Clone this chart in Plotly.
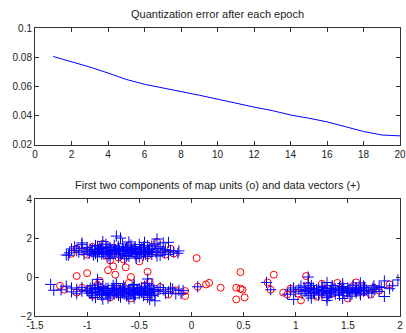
import plotly.graph_objects as go
from plotly.subplots import make_subplots

# ---- top panel data ----
epochs = list(range(1, 21))
qerr = [0.0805, 0.0770, 0.0733, 0.0692, 0.0648, 0.0615, 0.0592, 0.0565, 0.0540, 0.0512,
        0.0482, 0.0459, 0.0435, 0.0405, 0.0383, 0.0358, 0.0325, 0.0292, 0.0268, 0.0262]

# ---- bottom panel: data vectors (+) ----
dataA_x = [-1.05, -0.92, -0.82, -0.74, -0.66, -0.58, -0.50, -0.42, -0.35,
           -1.12, -1.00, -0.90, -0.80, -0.70, -0.62, -0.54, -0.46, -0.38, -0.30,
           -1.15, -1.05, -0.95, -0.87, -0.78, -0.70, -0.63, -0.55, -0.48, -0.40, -0.32, -0.25,
           -1.10, -1.00, -0.93, -0.85, -0.77, -0.69, -0.61, -0.53, -0.45, -0.37, -0.28, -0.20, -0.12,
           -1.17, -1.08, -0.98, -0.90, -0.82, -0.74, -0.66, -0.58, -0.50, -0.42, -0.34, -0.26, -0.17,
           -1.20, -1.03, -0.94, -0.86, -0.78, -0.70, -0.62, -0.54, -0.46, -0.38, -0.30, -0.22,
           -0.90, -0.80, -0.70, -0.60, -0.50, -0.42, -0.33,
           -0.78, -0.64, -0.53,
           -0.72, -0.68, -0.33, -0.22, -0.27, -1.05, -0.85, -0.60, -0.45, -0.13, -1.18,
           -0.96, -0.88, -0.80, -0.72, -0.64, -0.56, -0.48, -0.40,
           -0.97, -0.89, -0.81, -0.73, -0.65, -0.57, -0.49, -0.41,
           -0.92, -0.84, -0.76, -0.68, -0.60, -0.52, -0.44,
           -0.86, -0.78, -0.70, -0.62, -0.54, -0.46]
dataA_y = [1.66, 1.62, 1.68, 1.63, 1.70, 1.64, 1.67, 1.61, 1.69,
           1.55, 1.52, 1.58, 1.54, 1.57, 1.51, 1.56, 1.53, 1.59, 1.55,
           1.44, 1.47, 1.42, 1.46, 1.43, 1.48, 1.41, 1.45, 1.49, 1.44, 1.47, 1.42,
           1.35, 1.33, 1.38, 1.32, 1.36, 1.34, 1.37, 1.31, 1.35, 1.39, 1.33, 1.36, 1.34,
           1.24, 1.27, 1.22, 1.26, 1.23, 1.28, 1.21, 1.25, 1.27, 1.22, 1.26, 1.24, 1.28,
           1.13, 1.16, 1.12, 1.17, 1.14, 1.18, 1.11, 1.15, 1.13, 1.16, 1.12, 1.15,
           1.04, 1.07, 1.02, 1.06, 1.03, 1.05, 1.08,
           0.96, 0.94, 0.97,
           2.10, 2.00, 1.95, 1.78, 1.75, 1.75, 1.82, 1.80, 1.78, 1.22, 1.12,
           1.30, 1.28, 1.31, 1.29, 1.32, 1.30, 1.28, 1.31,
           1.40, 1.42, 1.39, 1.41, 1.38, 1.42, 1.40, 1.39,
           1.20, 1.18, 1.21, 1.19, 1.22, 1.20, 1.18,
           1.50, 1.52, 1.49, 1.51, 1.48, 1.50]

dataB_x = [-0.90, -0.72, -0.55, -0.42,
           -1.20, -0.95, -0.85, -0.75, -0.65, -0.55, -0.45, -0.38,
           -1.15, -1.05, -0.97, -0.89, -0.80, -0.72, -0.64, -0.56, -0.48, -0.40, -0.30, -0.20,
           -1.25, -1.10, -1.00, -0.92, -0.84, -0.76, -0.68, -0.60, -0.52, -0.44, -0.36, -0.27, -0.18, -0.12,
           -1.15, -1.05, -0.96, -0.88, -0.80, -0.72, -0.64, -0.56, -0.48, -0.40, -0.32, -0.22,
           -1.10, -0.98, -0.90, -0.82, -0.74, -0.66, -0.58, -0.50, -0.42, -0.35, -0.25, -0.15,
           -0.95, -0.86, -0.78, -0.70, -0.62, -0.54, -0.46, -0.38,
           -0.92, -0.80, -0.68, -0.55, -0.42,
           -0.85, -0.60, -0.40,
           -1.35, -1.32, -0.42, -0.90, -0.35, -0.10, -0.08, 0.06,
           -1.00, -0.92, -0.84, -0.76, -0.68, -0.60, -0.52, -0.44, -0.36,
           -0.96, -0.88, -0.80, -0.72, -0.64, -0.56, -0.48, -0.40,
           -0.90, -0.82, -0.74, -0.66, -0.58, -0.50, -0.42,
           -0.86, -0.78, -0.70, -0.62, -0.54, -0.46]
dataB_y = [-0.36, -0.33, -0.38, -0.34,
           -0.47, -0.44, -0.48, -0.43, -0.46, -0.42, -0.47, -0.45,
           -0.56, -0.53, -0.57, -0.54, -0.58, -0.52, -0.56, -0.55, -0.53, -0.57, -0.54, -0.56,
           -0.66, -0.63, -0.67, -0.64, -0.68, -0.62, -0.66, -0.65, -0.63, -0.67, -0.64, -0.66, -0.62, -0.68,
           -0.76, -0.73, -0.77, -0.74, -0.78, -0.72, -0.76, -0.75, -0.73, -0.77, -0.74, -0.76,
           -0.86, -0.83, -0.87, -0.84, -0.88, -0.82, -0.86, -0.85, -0.83, -0.87, -0.84, -0.86,
           -0.96, -0.93, -0.97, -0.94, -0.98, -0.92, -0.96, -0.95,
           -1.05, -1.08, -1.03, -1.07, -1.04,
           -1.14, -1.12, -1.16,
           -0.38, -0.68, -0.10, -0.12, -1.22, -0.85, -0.70, -0.50,
           -0.70, -0.72, -0.69, -0.71, -0.68, -0.72, -0.70, -0.69, -0.71,
           -0.80, -0.82, -0.79, -0.81, -0.78, -0.82, -0.80, -0.79,
           -0.60, -0.58, -0.61, -0.59, -0.62, -0.60, -0.58,
           -0.90, -0.92, -0.89, -0.91, -0.88, -0.90]

dataC_x = [1.12, 1.30, 1.45, 1.62,
           1.05, 1.15, 1.25, 1.35, 1.45, 1.55, 1.65, 1.75,
           0.98, 1.08, 1.17, 1.26, 1.34, 1.42, 1.50, 1.58, 1.66, 1.74, 1.82,
           0.95, 1.03, 1.12, 1.20, 1.28, 1.36, 1.44, 1.52, 1.60, 1.68, 1.76,
           1.00, 1.09, 1.17, 1.25, 1.33, 1.41, 1.49, 1.57, 1.65, 1.73, 1.80,
           1.06, 1.14, 1.22, 1.30, 1.38, 1.46, 1.54, 1.62, 1.70,
           1.12, 1.22, 1.32, 1.42, 1.52, 1.62,
           1.15, 1.30, 1.45,
           1.12, 1.85, 1.98, 1.93, 1.80, 1.85, 0.92, 0.98, 1.30, 1.90, 0.72, 0.76,
           1.10, 1.18, 1.26, 1.34, 1.42, 1.50, 1.58, 1.66,
           1.14, 1.22, 1.30, 1.38, 1.46, 1.54, 1.62,
           1.18, 1.26, 1.34, 1.42, 1.50, 1.58]
dataC_y = [-0.32, -0.28, -0.34, -0.30,
           -0.46, -0.43, -0.47, -0.44, -0.48, -0.42, -0.46, -0.45,
           -0.56, -0.53, -0.57, -0.54, -0.58, -0.52, -0.56, -0.55, -0.53, -0.57, -0.54,
           -0.66, -0.63, -0.67, -0.64, -0.68, -0.62, -0.66, -0.65, -0.63, -0.67, -0.64,
           -0.76, -0.73, -0.77, -0.74, -0.78, -0.72, -0.76, -0.75, -0.73, -0.77, -0.74,
           -0.86, -0.83, -0.87, -0.84, -0.88, -0.82, -0.86, -0.85, -0.83,
           -0.96, -0.93, -0.97, -0.94, -0.98, -0.92,
           -1.08, -1.06, -1.10,
           0.00, -0.20, -0.15, -0.45, -0.50, -1.00, -0.88, -1.15, -1.20, -0.60, -0.28, -0.65,
           -0.70, -0.72, -0.69, -0.71, -0.68, -0.72, -0.70, -0.69,
           -0.60, -0.62, -0.59, -0.61, -0.58, -0.62, -0.60,
           -0.80, -0.82, -0.79, -0.81, -0.78, -0.80]

# ---- bottom panel: map units (o) ----
units_x = [-1.15, -1.10, -1.00, -0.95, -0.88, -0.82, -0.78, -0.75, -0.68, -0.65, -0.60, -0.55,
           -0.50, -0.48, -0.42, -0.38, -0.33, -0.30, -0.25, -0.20, -0.17, -0.85, -0.70, -1.05,
           -1.26, -1.22, -1.10, -1.05, -0.95, -0.90, -0.88, -0.82, -0.78, -0.72, -0.68, -0.60,
           -0.58, -0.52, -0.45, -0.42, -0.40, -0.35, -0.30, -0.22, -0.15, -0.06, -0.06, -0.98, -0.70,
           0.95, 1.02, 1.05, 1.10, 1.12, 1.15, 1.20, 1.25, 1.30, 1.35, 1.40, 1.45, 1.50, 1.55,
           1.58, 1.60, 1.65, 1.72, 1.75, 1.80, 1.90, 1.28,
           0.05, 0.47, 0.79, -1.10, -1.00, -0.80, -0.75, -0.63, -0.73, -0.42, -0.58, 0.06,
           0.14, 0.17, 0.28, 0.43, 0.47, 0.49, 0.43, 0.51, 0.73, 0.76, 0.88, 0.92]
units_y = [1.20, 1.45, 1.15, 1.55, 1.35, 1.10, 0.85, 1.50, 1.25, 0.90, 1.60, 1.20,
           0.80, 1.45, 1.10, 1.55, 1.80, 1.30, 1.15, 1.45, 1.20, 1.70, 1.00, 1.30,
           -0.45, -0.65, -0.80, -0.55, -0.95, -0.40, -0.20, -0.70, -1.05, -0.50, -0.90, -0.30,
           -1.10, -0.70, -0.45, -1.00, -0.25, -0.80, -0.52, -0.90, -0.68, -0.72, -0.97, -0.65, -0.75,
           -0.60, -0.85, -1.20, 0.05, -0.45, -0.70, -1.00, -0.35, -0.60, -0.85, -0.30, -0.65, -1.10, -0.45,
           -0.28, -0.80, -0.55, -0.90, -0.55, -0.70, -0.38, -1.05,
           0.97, 0.25, 0.12, 0.05, 0.20, 0.35, 0.55, 0.50, 0.12, 0.27, 0.00, -0.50,
           -0.38, -0.30, -0.55, -0.55, -0.60, -0.65, -1.15, -1.05, -0.28, -0.65, -0.80, -0.90]

data_x = dataA_x + dataB_x + dataC_x
data_y = dataA_y + dataB_y + dataC_y

FONT = "Liberation Sans, Arial, sans-serif"

fig = make_subplots(rows=2, cols=1, vertical_spacing=0.188)

fig.add_trace(go.Scatter(x=epochs, y=qerr, mode="lines",
                         line=dict(color="rgb(0,0,255)", width=1)), row=1, col=1)

fig.add_trace(go.Scatter(x=units_x, y=units_y, mode="markers",
                         marker=dict(symbol="circle-open", size=7, color="rgb(255,0,0)",
                                     line=dict(color="rgb(255,0,0)", width=1))), row=2, col=1)
fig.add_trace(go.Scatter(x=data_x, y=data_y, mode="markers",
                         marker=dict(symbol="cross-thin", size=8,
                                     line=dict(color="rgb(0,0,255)", width=1))), row=2, col=1)

axis_common = dict(showline=True, linecolor="#333", linewidth=1, mirror="allticks",
                   ticks="inside", ticklen=4, tickcolor="#333", showgrid=False, zeroline=False,
                   ticklabeloverflow="allow",
                   tickfont=dict(family=FONT, size=10, color="#222"))

fig.update_xaxes(range=[0, 20], tickvals=list(range(0, 21, 2)),
                 domain=[0, 1], row=1, col=1, **axis_common)
fig.update_yaxes(range=[0.02, 0.1], tickvals=[0.02, 0.04, 0.06, 0.08, 0.1],
                 ticktext=["0.02", "0.04", "0.06", "0.08", "0.1"],
                 domain=[0.594, 1.0], row=1, col=1, **axis_common)
fig.update_xaxes(range=[-1.5, 2], tickvals=[-1.5, -1, -0.5, 0, 0.5, 1, 1.5, 2],
                 ticktext=["-1.5", "-1", "-0.5", "0", "0.5", "1", "1.5", "2"],
                 domain=[0, 1], row=2, col=1, **axis_common)
fig.update_yaxes(range=[-2, 4], tickvals=[-2, 0, 2, 4],
                 domain=[0.0, 0.406], row=2, col=1, **axis_common)

fig.add_annotation(text="Quantization error after each epoch", xref="paper", yref="paper",
                   x=0.5, y=1.049, xanchor="center", yanchor="middle", showarrow=False,
                   font=dict(family=FONT, size=11, color="#222"))
fig.add_annotation(text="First two components of map units (o) and data vectors (+)",
                   xref="paper", yref="paper", x=0.5, y=0.455, xanchor="center",
                   yanchor="middle", showarrow=False,
                   font=dict(family=FONT, size=11, color="#222"))

fig.update_layout(width=406, height=333, margin=dict(l=35, r=0, t=28, b=17),
                  paper_bgcolor="white", plot_bgcolor="white", showlegend=False)

fig.write_html("out.html")
